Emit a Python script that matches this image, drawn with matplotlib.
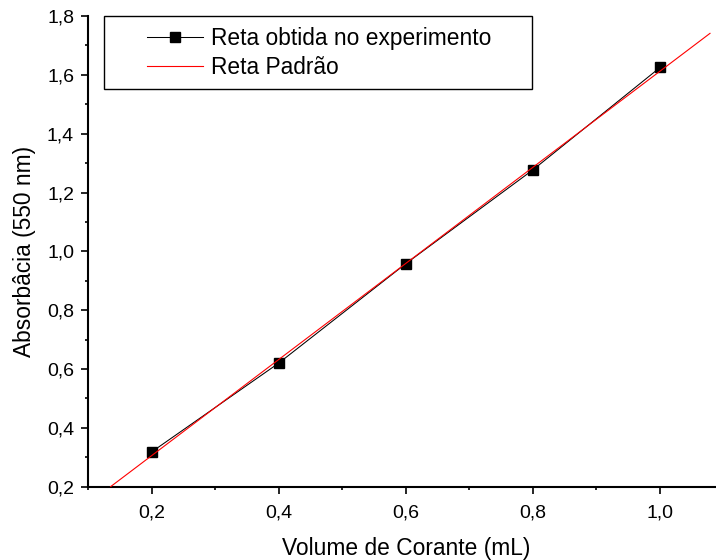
import matplotlib
matplotlib.use("Agg")
import matplotlib.pyplot as plt
from matplotlib.patches import Rectangle
from matplotlib.ticker import MultipleLocator

plt.rcParams['font.family'] = ['Liberation Sans', 'DejaVu Sans']

# Data
volume = [0.2, 0.4, 0.6, 0.8, 1.0]
absorbancia = [0.318, 0.620, 0.958, 1.277, 1.625]
padrao_x = [0.1355, 1.0786]
padrao_y = [0.2, 1.741]

xticks = [0.2, 0.4, 0.6, 0.8, 1.0]
xticklabels = ['0,2', '0,4', '0,6', '0,8', '1,0']
yticks = [0.2, 0.4, 0.6, 0.8, 1.0, 1.2, 1.4, 1.6, 1.8]
yticklabels = ['0,2', '0,4', '0,6', '0,8', '1,0', '1,2', '1,4', '1,6', '1,8']

W, H = 716, 560
fig = plt.figure(figsize=(W / 100, H / 100), dpi=100)
left = 88 / W
bottom = 1 - 486.7 / H
top = 1 - 16 / H
right = 723.6 / W
ax = fig.add_axes([left, bottom, right - left, top - bottom])

l1, = ax.plot(volume, absorbancia, color='black', lw=0.75, marker='s',
              markersize=7.2, markerfacecolor='black', markeredgecolor='black',
              label='Reta obtida no experimento', zorder=3)
l2, = ax.plot(padrao_x, padrao_y, color='red', lw=0.8, label='Reta Padrão', zorder=4)

ax.set_xlim(0.1, 1.1)
ax.set_ylim(0.2, 1.8)
ax.set_xticks(xticks)
ax.set_xticklabels(xticklabels)
ax.set_yticks(yticks)
ax.set_yticklabels(yticklabels)
ax.xaxis.set_minor_locator(MultipleLocator(0.1))
ax.yaxis.set_minor_locator(MultipleLocator(0.1))

for s in ['top', 'right']:
    ax.spines[s].set_visible(False)
for s in ['left', 'bottom']:
    ax.spines[s].set_linewidth(1.5)

ax.tick_params(which='major', direction='out', length=5, width=1.2, labelsize=14, pad=5)
ax.tick_params(which='minor', direction='out', length=2.5, width=1.2)
ax.tick_params(axis='x', which='major', pad=8)

ax.set_xlabel('Volume de Corante (mL)', fontsize=16.4, labelpad=11)
ax.set_ylabel('Absorbâcia (550 nm)', fontsize=16.4, labelpad=8)

leg = ax.legend(handles=[l1, l2], loc='upper left', frameon=False,
                bbox_to_anchor=(147 / W, 1 - 27 / H), bbox_transform=fig.transFigure,
                borderaxespad=0, borderpad=0, fontsize=16.4, handlelength=2.45,
                handletextpad=0.35, labelspacing=0.28)

rect = Rectangle((104 / W, 1 - 89 / H), (532 - 104) / W, (89 - 16) / H,
                 transform=fig.transFigure, fill=False, edgecolor='black', lw=1.0)
fig.patches.append(rect)

fig.savefig('out.png', dpi=100)
